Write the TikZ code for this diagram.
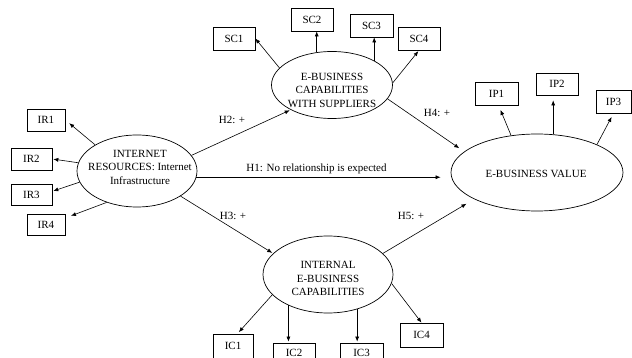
\documentclass[tikz,border=0pt]{standalone}
\usepackage{fontspec}
\setmainfont{Liberation Serif}
\usetikzlibrary{shapes.geometric,arrows.meta,calc}
\begin{document}
\begin{tikzpicture}[x=1pt,y=-1pt,
  font=\fontsize{11}{13.5}\selectfont,
  ell/.style={draw,ellipse,inner sep=0pt,line width=0.7pt},
  ind/.style={draw,rectangle,inner sep=0pt,line width=0.7pt,minimum width=42pt,minimum height=23pt},
  arr/.style={-{Latex[length=5pt,width=4pt]},line width=0.6pt},
  lab/.style={inner sep=0pt}
]
\useasboundingbox (0,0) rectangle (632,358);
% constructs
\node[ell,minimum width=120pt,minimum height=72pt] (ir) at (137,171) {};
\node[lab,align=center] (irt) at (140,167) {INTERNET\\RESOURCES: Internet\\Infrastructure};
\node[ell,minimum width=121pt,minimum height=67pt] (sc) at (332,85) {};
\node[lab,align=center] (sct) at (332,90) {E-BUSINESS\\CAPABILITIES\\WITH SUPPLIERS};
\node[ell,minimum width=172pt,minimum height=77pt] (ebv) at (537,172.5) {};
\node[lab] (ebvt) at (536,174) {E-BUSINESS VALUE};
\node[ell,minimum width=130pt,minimum height=77pt] (ic) at (328,274.5) {};
\node[lab,align=center] (ict) at (328,278.5) {INTERNAL\\E-BUSINESS\\CAPABILITIES};
% indicators
\node[ind,minimum width=38pt,minimum height=22pt] (ir1) at (46,120) {IR1};
\node[ind,minimum width=41pt,minimum height=22pt] (ir2) at (31.5,159) {IR2};
\node[ind,minimum width=41pt,minimum height=21pt] (ir3) at (31.5,195) {IR3};
\node[ind,minimum width=38pt,minimum height=21pt] (ir4) at (46,225) {IR4};
\node[ind] (sc1) at (234,38.5) {SC1};
\node[ind] (sc2) at (312,19.5) {SC2};
\node[ind,minimum width=43pt] (sc3) at (371.5,25.5) {SC3};
\node[ind] (sc4) at (419,38.5) {SC4};
\node[ind,minimum width=43pt] (ip1) at (496.5,93.5) {IP1};
\node[ind,minimum height=22pt] (ip2) at (557,84) {IP2};
\node[ind,minimum width=35pt] (ip3) at (613.5,101.5) {IP3};
\node[ind,minimum width=40pt,minimum height=24pt] (ic1) at (233,346) {IC1};
\node[ind,minimum height=20pt] (ic2) at (294,353) {IC2};
\node[ind,minimum width=43pt,minimum height=20pt] (ic3) at (361.5,353) {IC3};
\node[ind,minimum width=43pt,minimum height=24pt] (ic4) at (421.5,335) {IC4};
% indicator arrows
\draw[arr,shorten >=5pt] (ir.148) -- (ir1.east);
\draw[arr,shorten >=1pt] (ir.172) -- (ir2.east);
\draw[arr,shorten >=1pt] (ir.191) -- (ir3.10);
\draw[arr,shorten >=6pt] (ir.226) -- (ir4.20);
\draw[arr] (sc.162) -- (sc1.east);
\draw[arr] (sc.115) -- (sc.115 |- sc2.south);
\draw[arr] (sc.30) -- (sc.30 |- sc3.south);
\draw[arr,shorten >=1pt] (sc.2) -- (sc4.south);
\draw[arr,shorten >=5pt] (ebv.125) -- (ip1.-80);
\draw[arr,shorten >=5pt] (ebv.67) -- (ebv.67 |- ip2.south);
\draw[arr,shorten >=4pt] (ebv.25) -- (ip3.south);
\draw[arr,shorten >=2pt] (ic.200) -- (ic1.70);
\draw[arr,shorten >=1pt] (ic.218) -- (ic.218 |- ic2.north);
\draw[arr,shorten >=1pt] (ic.310) -- (ic.310 |- ic3.north);
\draw[arr] (ic.352) -- (ic4.north);
% hypotheses
\draw[arr,shorten >=1pt] (ir.16) -- (sc.211);
\draw[arr,shorten >=10pt] (ir.-6) -- (ir.-6 -| ebv.west);
\draw[arr,shorten >=1pt] (ir.-30) -- (ic.159);
\draw[arr,shorten >=6pt] (sc.-14) -- (ebv.164);
\draw[arr,shorten >=9pt] (ic.21) -- (ebv.203.5);
\node[lab] (h2) at (232,120) {H2: +};
\node[lab] (h1) at (316.5,169) {H1: No relationship is expected};
\node[lab] (h3) at (233,216) {H3: +};
\node[lab] (h4) at (437,113) {H4: +};
\node[lab] (h5) at (411,216) {H5: +};
\end{tikzpicture}
\end{document}
